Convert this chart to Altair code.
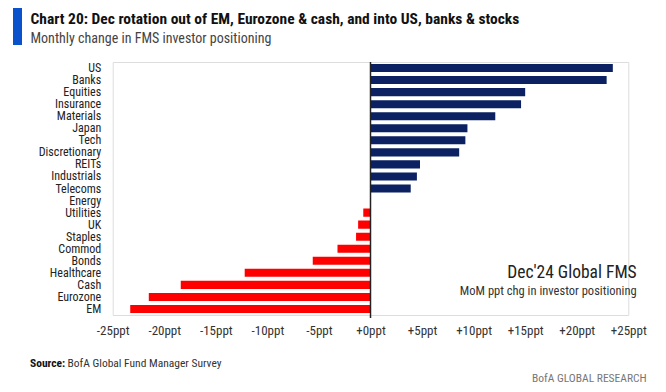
import altair as alt
import pandas as pd

categories = ["US", "Banks", "Equities", "Insurance", "Materials", "Japan", "Tech",
              "Discretionary", "REITs", "Industrials", "Telecoms", "Energy", "Utilities",
              "UK", "Staples", "Commod", "Bonds", "Healthcare", "Cash", "Eurozone", "EM"]
values = [23.5, 22.9, 15.0, 14.6, 12.1, 9.4, 9.2, 8.6, 4.8, 4.5, 3.9, 0.0, -0.7,
          -1.2, -1.4, -3.2, -5.6, -12.2, -18.4, -21.5, -23.3]
tick_values = [-25, -20, -15, -10, -5, 0, 5, 10, 15, 20, 25]

FONT = "Liberation Sans Narrow, Roboto Condensed, Roboto, sans-serif"
NAVY = "#0b2161"
RED = "#ff0000"

df = pd.DataFrame({"cat": categories, "val": values})
df["sign"] = ["pos" if v >= 0 else "neg" for v in values]

W, H = 515.6, 253

xscale = alt.Scale(domain=[-25, 25], nice=False)
yscale = alt.Scale(paddingInner=0.33, paddingOuter=0.165)

bars = alt.Chart(df).mark_bar().encode(
    x=alt.X("val:Q", scale=xscale,
            axis=alt.Axis(values=tick_values, title=None, grid=False, domain=False, ticks=False,
                          labelOverlap=False, labelFlush=False,
                          labelFont=FONT, labelFontSize=13, labelColor="#333333", labelPadding=9,
                          labelExpr="datum.value > 0 ? '+' + datum.value + 'ppt' : (datum.value == 0 ? '+0ppt' : datum.value + 'ppt')")),
    y=alt.Y("cat:N", sort=categories, scale=yscale,
            axis=alt.Axis(title=None, grid=False, domain=False, ticks=False, labelPadding=12,
                          labelOverlap=False,
                          labelFont=FONT, labelFontSize=12, labelColor="#222222")),
    color=alt.Color("sign:N", scale=alt.Scale(domain=["pos", "neg"], range=[NAVY, RED]), legend=None),
)

zero = alt.Chart(pd.DataFrame({"z": [0]})).mark_rule(color="#222222", strokeWidth=1.5).encode(
    x=alt.X("z:Q", scale=xscale), y=alt.value(0), y2=alt.value(H + 3)
)

def txt(text, x, y, size, color="#222222", weight="normal", align="left"):
    return alt.Chart(pd.DataFrame({"t": [text]})).mark_text(
        font=FONT, fontSize=size, color=color, fontWeight=weight, align=align, baseline="alphabetic"
    ).encode(text="t:N", x=alt.value(x), y=alt.value(y))

ox, oy = 112.7, 62

title = txt("Chart 20: Dec rotation out of EM, Eurozone & cash, and into US, banks & stocks",
            30.5 - ox, 24 - oy, 15.5, "#111111", "bold")
subtitle = txt("Monthly change in FMS investor positioning", 30.5 - ox, 42.5 - oy, 14, "#444444")
blue = alt.Chart(pd.DataFrame({"a": [0]})).mark_rect(color="#0a52cc").encode(
    x=alt.value(13 - ox), x2=alt.value(22 - ox), y=alt.value(5 - oy), y2=alt.value(45 - oy)
)
ann1 = txt("Dec'24 Global FMS", 636.7 - ox, 278.3 - oy, 17.5, "#222222", align="right")
ann2 = txt("MoM ppt chg in investor positioning", 636.7 - ox, 295 - oy, 12.5, "#333333", align="right")
src1 = txt("Source:", 30 - ox, 367.3 - oy, 11.5, "#111111", "bold")
src2 = txt("BofA Global Fund Manager Survey", 67.5 - ox, 367.3 - oy, 11.5, "#333333")
brand = txt("BofA GLOBAL RESEARCH", 646.7 - ox, 381.5 - oy, 11.5, "#777777", align="right")

chart = alt.layer(bars, zero, title, subtitle, blue, ann1, ann2, src1, src2, brand).properties(
    width=W, height=H,
    autosize=alt.AutoSizeParams(type="none"),
    padding={"left": ox - 8, "top": oy - 8, "right": 650 - (ox - 8) - W, "bottom": 376 - (oy - 8) - H},
).configure_view(stroke=None).configure(background="white")

chart.save("out.html", embed_options={"renderer": "svg", "actions": False})
